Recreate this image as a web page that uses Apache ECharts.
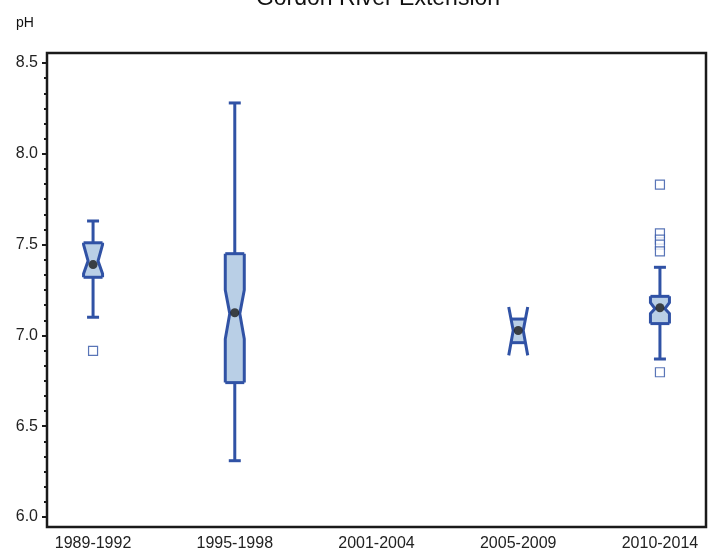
<!DOCTYPE html>
<html>
<head>
<meta charset="utf-8">
<script src="https://cdn.jsdelivr.net/npm/echarts@6/dist/echarts.min.js"></script>
<style>
  html, body { margin: 0; padding: 0; background: #fff; }
  #chart { width: 720px; height: 556px; }
</style>
</head>
<body>
<div id="chart"></div>
<script>
// pH by period, notched boxplots (SAS-style) with mean dots and outliers.
const categories = ['1989-1992', '1995-1998', '2001-2004', '2005-2009', '2010-2014'];
const whiskerLow = [7.10, 6.31, null, 6.96, 6.87];
const q1 = [7.32, 6.74, null, 6.96, 7.065];
const notchLow = [7.34, 6.98, null, 6.89, 7.12];
const median = [7.41, 7.12, null, 7.027, 7.147];
const notchHigh = [7.50, 7.25, null, 7.156, 7.18];
const q3 = [7.51, 7.45, null, 7.09, 7.215];
const whiskerHigh = [7.63, 8.28, null, 7.09, 7.375];
const means = [7.39, 7.125, null, 7.027, 7.152];
// [category index, value]
const outliers = [[0, 6.915], [4, 7.83], [4, 7.562], [4, 7.527], [4, 7.50], [4, 7.463], [4, 6.797]];

const BLUE = '#3052a5';
const FILL = '#b9cfe6';
const FONT = 'Liberation Sans, Arial, Helvetica, sans-serif';

const boxData = categories.map((_, i) => q1[i] == null ? null :
  [i, whiskerLow[i], q1[i], notchLow[i], median[i], notchHigh[i], q3[i], whiskerHigh[i]]).filter(Boolean);
const meanData = means.map((m, i) => m == null ? null : [i, m]).filter(Boolean);

function renderBox(params, api) {
  const i = api.value(0);
  const wl = api.value(1), lo = api.value(2), nLo = api.value(3), med = api.value(4);
  const nHi = api.value(5), hi = api.value(6), wh = api.value(7);
  const y = (v) => api.coord([i, v])[1];
  const cx = api.coord([i, med])[0];
  const full = 9.5, narrow = 5, cap = 6;
  // half width of the notched profile at value v
  const halfW = (v) => {
    if (v >= nHi || v <= nLo) return full;
    if (v >= med) return narrow + (full - narrow) * (v - med) / (nHi - med);
    return narrow + (full - narrow) * (med - v) / (med - nLo);
  };
  const top = Math.max(hi, nHi), bot = Math.min(lo, nLo);
  const outlineVals = [top, nHi, med, nLo, bot];
  const fillVals = [hi, nHi, med, nLo, lo].filter((v) => v <= hi && v >= lo);
  const side = (vals, s) => vals.map((v) => [cx + s * halfW(v), y(v)]);
  const fillPts = side(fillVals, -1).concat(side(fillVals.slice().reverse(), 1));
  const stroke = { stroke: BLUE, lineWidth: 3, lineJoin: 'round', fill: null };
  const kids = [
    { type: 'polygon', shape: { points: fillPts }, style: { fill: FILL, stroke: null } },
    { type: 'polyline', shape: { points: side(outlineVals, -1) }, style: stroke },
    { type: 'polyline', shape: { points: side(outlineVals, 1) }, style: stroke },
    { type: 'line', shape: { x1: cx - halfW(hi), y1: y(hi), x2: cx + halfW(hi), y2: y(hi) }, style: stroke },
    { type: 'line', shape: { x1: cx - halfW(lo), y1: y(lo), x2: cx + halfW(lo), y2: y(lo) }, style: stroke },
  ];
  if (wh > top) {
    kids.push({ type: 'line', shape: { x1: cx, y1: y(hi), x2: cx, y2: y(wh) }, style: stroke });
    kids.push({ type: 'line', shape: { x1: cx - cap, y1: y(wh), x2: cx + cap, y2: y(wh) }, style: stroke });
  }
  if (wl < bot) {
    kids.push({ type: 'line', shape: { x1: cx, y1: y(lo), x2: cx, y2: y(wl) }, style: stroke });
    kids.push({ type: 'line', shape: { x1: cx - cap, y1: y(wl), x2: cx + cap, y2: y(wl) }, style: stroke });
  }
  return { type: 'group', children: kids };
}

const chart = echarts.init(document.getElementById('chart'), null, { renderer: 'canvas' });
chart.setOption({
  animation: false,
  backgroundColor: '#fff',
  title: [
    { text: 'Gordon River Extension', left: 373, textAlign: 'center', top: -18,
      textStyle: { fontFamily: FONT, fontSize: 23, fontWeight: 'normal', color: '#111' } },
    { text: 'pH', left: 11, top: 11, textStyle: { fontFamily: FONT, fontSize: 14, fontWeight: 'normal', color: '#111' } },
  ],
  grid: [
    // frame
    { left: 47, right: 14, top: 53, bottom: 29, show: true, borderColor: '#1a1a1a', borderWidth: 2.5, backgroundColor: 'transparent' },
    // data area (6.0 .. 8.5)
    { left: 47, right: 14, top: 63, bottom: 39 },
  ],
  xAxis: [
    { gridIndex: 0, type: 'value', show: false, min: 0, max: 1 },
    { gridIndex: 1, type: 'value', min: -0.325, max: 4.325,
      axisLine: { show: false, onZero: false }, axisTick: { show: false }, splitLine: { show: false },
      axisLabel: { customValues: [0, 1, 2, 3, 4], formatter: (v) => categories[Math.round(v)],
        fontFamily: FONT, fontSize: 16, color: '#222', margin: 19 } },
  ],
  yAxis: [
    { gridIndex: 0, type: 'value', show: false, min: 0, max: 1 },
    { gridIndex: 1, type: 'value', min: 6, max: 8.5, interval: 0.5,
      axisLine: { show: false, onZero: false },
      axisTick: { show: true, length: 5, lineStyle: { color: '#1a1a1a', width: 2 } },
      minorTick: { show: true, splitNumber: 6, length: 3, lineStyle: { color: '#1a1a1a', width: 2 } },
      splitLine: { show: false },
      axisLabel: { formatter: (v) => v.toFixed(1), fontFamily: FONT, fontSize: 16, color: '#222', margin: 9,
        padding: [5, 0, 0, 0] } },
  ],
  series: [
    { type: 'custom', xAxisIndex: 1, yAxisIndex: 1, renderItem: renderBox, data: boxData,
      encode: { x: 0, y: [1, 2, 3, 4, 5, 6, 7] }, z: 2 },
    { type: 'scatter', xAxisIndex: 1, yAxisIndex: 1, data: meanData, symbol: 'circle', symbolSize: 9,
      itemStyle: { color: '#1a1a1a' }, z: 4 },
    { type: 'scatter', xAxisIndex: 1, yAxisIndex: 1, data: outliers, symbol: 'rect', symbolSize: 9,
      itemStyle: { color: '#fff', borderColor: BLUE, borderWidth: 1.2 }, z: 3 },
  ],
});
</script>
</body>
</html>
